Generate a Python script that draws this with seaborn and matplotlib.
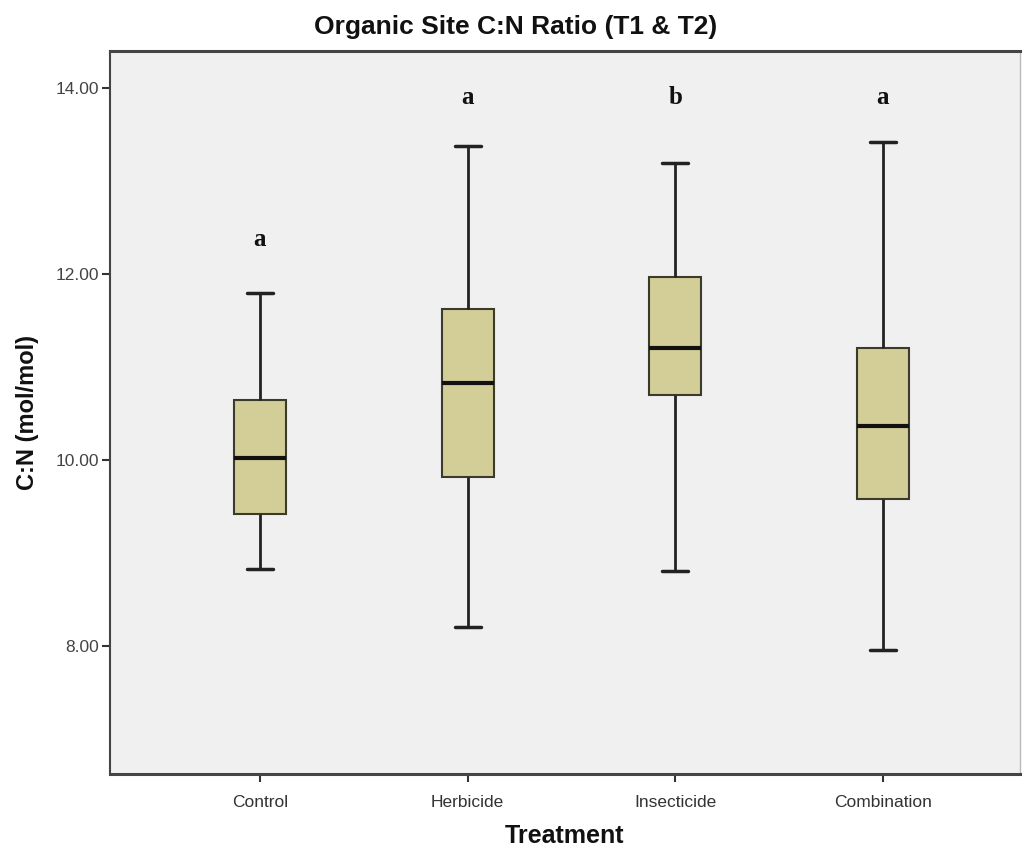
import matplotlib
matplotlib.use("Agg")
import matplotlib.pyplot as plt
import seaborn as sns
import pandas as pd

# ---- data ----
treatments = ["Control", "Herbicide", "Insecticide", "Combination"]
# five-number summaries: whisker low, Q1, median, Q3, whisker high
control_vals = [8.83, 9.42, 10.02, 10.645, 11.80]
herbicide_vals = [8.20, 9.82, 10.83, 11.62, 13.38]
insecticide_vals = [8.81, 10.70, 11.20, 11.97, 13.20]
combination_vals = [7.96, 9.58, 10.37, 11.20, 13.42]
letters = ["a", "a", "b", "a"]
letter_y = [12.37, 13.90, 13.90, 13.90]
yticks = [8.0, 10.0, 12.0, 14.0]

rows = []
for t, vals in zip(treatments, [control_vals, herbicide_vals, insecticide_vals, combination_vals]):
    for v in vals:
        rows.append({"Treatment": t, "CN": v})
df = pd.DataFrame(rows)

sns.set_theme(style="white")
plt.rcParams["font.family"] = ["Liberation Sans", "DejaVu Sans"]

fig = plt.figure(figsize=(10.24, 8.52), dpi=100)
ax = fig.add_axes([0.1074, 0.0915, 0.8886, 0.8485])
ax.set_facecolor("#F0F0F0")

sns.boxplot(
    data=df, x="Treatment", y="CN", order=treatments, ax=ax,
    whis=(0, 100), width=0.25, color="#D3CE97", saturation=1,
    linewidth=1.6, linecolor="#2b2b22", showfliers=False,
    medianprops={"color": "#111111", "linewidth": 3},
    whiskerprops={"color": "#222222", "linewidth": 2},
    capprops={"color": "#222222", "linewidth": 2.5},
    boxprops={"edgecolor": "#3b3b2c", "linewidth": 1.5},
)

for i, (lab, yv) in enumerate(zip(letters, letter_y)):
    ax.text(i, yv, lab, ha="center", va="center", fontsize=18,
            fontweight="bold", family="Liberation Serif", color="#111111")

ax.set_xlim(-0.722, 3.66)
ax.set_ylim(6.62, 14.40)
ax.set_yticks(yticks)
ax.set_yticklabels([f"{v:.2f}" for v in yticks], fontsize=12.5, color="#444444")
ax.set_xticks(range(len(treatments)))
ax.set_xticklabels(treatments, fontsize=12.5, color="#333333")
ax.tick_params(axis="both", direction="out", length=6, width=1.5, color="#333333",
               bottom=True, left=True, pad=2)
ax.tick_params(axis="x", pad=9)

for side in ["top", "right", "left", "bottom"]:
    ax.spines[side].set_color("#444444")
ax.spines["left"].set_linewidth(1.5)
ax.spines["bottom"].set_linewidth(2.2)
ax.spines["top"].set_linewidth(2.2)
ax.spines["right"].set_linewidth(1.0)
ax.spines["right"].set_color("#bbbbbb")

ax.set_xlabel("Treatment", fontsize=18, fontweight="bold", labelpad=10, color="#111111")
ax.set_ylabel("C:N (mol/mol)", fontsize=17, fontweight="bold", labelpad=12, color="#111111")
fig.text(0.504, 1 - 27 / 852, "Organic Site C:N Ratio (T1 & T2)", fontsize=19,
         fontweight="bold", ha="center", va="center", color="#111111")

fig.savefig("out.png", dpi=100)
